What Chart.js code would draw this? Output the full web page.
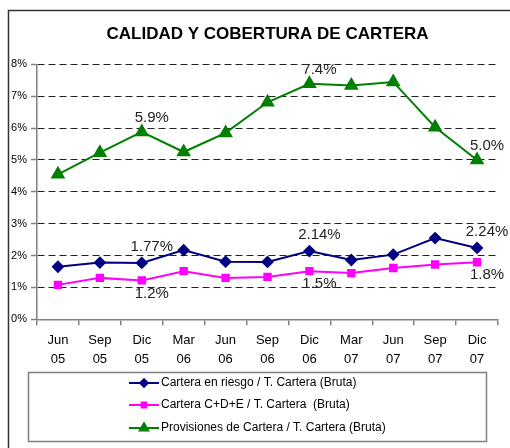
<!DOCTYPE html>
<html>
<head>
<meta charset="utf-8">
<script src="https://cdn.jsdelivr.net/npm/chart.js@4.4.1/dist/chart.umd.min.js"></script>
<style>
  html, body { margin: 0; padding: 0; background: #fff; }
</style>
</head>
<body>
<canvas id="grafico" width="510" height="448"></canvas>
<script>
// DATOS
const meses = ['Jun', 'Sep', 'Dic', 'Mar', 'Jun', 'Sep', 'Dic', 'Mar', 'Jun', 'Sep', 'Dic'];
const anios = ['05', '05', '05', '06', '06', '06', '06', '07', '07', '07', '07'];
const carteraRiesgo = [1.65, 1.78, 1.77, 2.17, 1.81, 1.80, 2.14, 1.86, 2.03, 2.55, 2.24];
const carteraCDE = [1.08, 1.30, 1.22, 1.51, 1.30, 1.33, 1.51, 1.45, 1.61, 1.72, 1.79];
const provisiones = [4.55, 5.23, 5.88, 5.25, 5.85, 6.81, 7.39, 7.34, 7.45, 6.03, 5.00];
const nombres = [
  'Cartera en riesgo / T. Cartera (Bruta)',
  'Cartera C+D+E / T. Cartera  (Bruta)',
  'Provisiones de Cartera / T. Cartera (Bruta)'
];
const etiquetasIdx = [2, 6, 10];   // los Dic llevan etiqueta
const decimales = [2, 1, 1];

const fuente = 'Arial, "Liberation Sans", sans-serif';
Chart.defaults.font.family = fuente;

// marco exterior
const marco = {
  id: 'marco',
  beforeDraw(chart) {
    const c = chart.ctx;
    c.save();
    c.fillStyle = '#fff';
    c.fillRect(0, 0, chart.width, chart.height);
    c.strokeStyle = '#333';
    c.lineWidth = 1.5;
    c.beginPath();
    c.moveTo(8.5, chart.height);
    c.lineTo(8.5, 10.5);
    c.lineTo(chart.width, 10.5);
    c.stroke();
    c.restore();
  }
};

// etiquetas de los puntos
const etiquetas = {
  id: 'etiquetas',
  afterDatasetsDraw(chart) {
    const c = chart.ctx;
    const dy = [-16, 13, -14];
    c.save();
    c.font = '15px ' + fuente;
    c.fillStyle = '#222';
    c.textAlign = 'center';
    c.textBaseline = 'middle';
    chart.data.datasets.forEach((ds, d) => {
      const meta = chart.getDatasetMeta(d);
      etiquetasIdx.forEach(i => {
        const p = meta.data[i];
        c.fillText(ds.data[i].toFixed(decimales[d]) + '%', p.x + 10, p.y + dy[d]);
      });
    });
    c.restore();
  }
};

// leyenda en caja
const leyenda = {
  id: 'leyenda',
  afterDraw(chart) {
    const c = chart.ctx;
    c.save();
    c.strokeStyle = '#808080';
    c.lineWidth = 1.5;
    c.strokeRect(28.5, 372.5, 458, 69);
    c.font = '12px ' + fuente;
    c.textBaseline = 'middle';
    c.textAlign = 'left';
    const filas = [383, 405, 428];
    chart.data.datasets.forEach((ds, d) => {
      const y = filas[d];
      c.strokeStyle = ds.borderColor;
      c.lineWidth = 2;
      c.beginPath();
      c.moveTo(129, y);
      c.lineTo(159, y);
      c.stroke();
      c.fillStyle = ds.pointBackgroundColor;
      c.strokeStyle = ds.borderColor;
      Chart.helpers.drawPoint(c, {pointStyle: ds.pointStyle, radius: ds.pointRadius * 0.75, borderWidth: 1, rotation: 0}, 144, y);
      c.fillStyle = '#000';
      c.fillText(ds.label, 161, y);
    });
    c.restore();
  }
};

const ctx = document.getElementById('grafico').getContext('2d');
const grafico = new Chart(ctx, {
  type: 'line',
  data: {
    labels: meses.map((m, i) => [m, anios[i]]),
    datasets: [
      {
        label: nombres[0], data: carteraRiesgo,
        borderColor: '#000080', pointBackgroundColor: '#000080', pointBorderColor: '#000080',
        borderWidth: 2, pointStyle: 'rectRot', pointRadius: 5, tension: 0
      },
      {
        label: nombres[1], data: carteraCDE,
        borderColor: '#ff00ff', pointBackgroundColor: '#ff00ff', pointBorderColor: '#ff00ff',
        borderWidth: 2, pointStyle: 'rect', pointRadius: 4.5, tension: 0
      },
      {
        label: nombres[2], data: provisiones,
        borderColor: '#008000', pointBackgroundColor: '#008000', pointBorderColor: '#008000',
        borderWidth: 2, pointStyle: 'triangle', pointRadius: 6.5, tension: 0
      }
    ]
  },
  options: {
    responsive: false,
    animation: false,
    layout: { padding: { left: 0, right: 12, top: 0, bottom: 73 } },
    plugins: {
      legend: { display: false },
      tooltip: { enabled: false },
      title: {
        display: true,
        text: 'CALIDAD Y COBERTURA DE CARTERA',
        color: '#000',
        font: { size: 17, weight: 'bold' },
        padding: { top: 24, bottom: 20 },
        fullSize: false
      }
    },
    scales: {
      x: {
        offset: true,
        ticks: { color: '#000', font: { size: 13, lineHeight: 1.45 }, padding: 6, maxRotation: 0, autoSkip: false },
        grid: { offset: true, drawOnChartArea: false, tickLength: 6, color: '#808080', lineWidth: 1.5 },
        border: { color: '#808080', width: 1.5 }
      },
      y: {
        min: 0,
        max: 8,
        ticks: { stepSize: 1, color: '#000', font: { size: 11 }, padding: 4, callback: v => v + '%' },
        grid: { color: '#222', lineWidth: 1, tickLength: 6, tickColor: '#808080', tickWidth: 1.5, tickBorderDash: [] },
        border: { color: '#808080', width: 1.5, dash: [7, 4] },
        afterFit(s) { s.width = 37; }
      }
    }
  },
  plugins: [marco, etiquetas, leyenda]
});
</script>
</body>
</html>
